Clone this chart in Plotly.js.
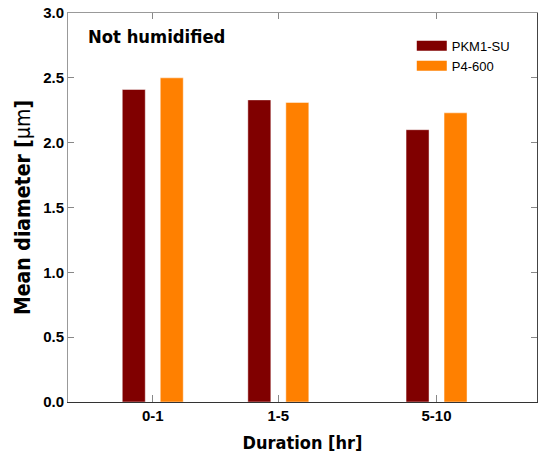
<!DOCTYPE html>
<html>
<head>
<meta charset="utf-8">
<script src="https://cdn.plot.ly/plotly-3.0.1.min.js"></script>
<style>html,body{margin:0;padding:0;background:#fff;}#chart{width:542px;height:458px;}</style>
</head>
<body>
<div id="chart"></div>
<script>
// Data
var durations = ['0-1', '1-5', '5-10'];
var durationPos = [1, 2, 3.26];
var pkm1su = [2.41, 2.33, 2.10];
var p4600 = [2.50, 2.31, 2.23];
var seriesNames = ['PKM1-SU', 'P4-600'];
var yTickVals = [0, 0.5, 1.0, 1.5, 2.0, 2.5, 3.0];

var colDark = '#800000';
var colOrange = '#ff8000';

var traces = [
  {type: 'bar', x: durationPos, y: pkm1su, name: seriesNames[0], showlegend: false,
   marker: {color: colDark, line: {color: 'rgba(255,255,255,0.45)', width: 1}}},
  {type: 'bar', x: durationPos, y: p4600, name: seriesNames[1], showlegend: false,
   marker: {color: colOrange, line: {color: 'rgba(255,255,255,0.45)', width: 1}}},
  {type: 'scatter', mode: 'lines', x: [null], y: [null], name: seriesNames[0],
   line: {color: colDark, width: 12}, hoverinfo: 'skip'},
  {type: 'scatter', mode: 'lines', x: [null], y: [null], name: seriesNames[1],
   line: {color: colOrange, width: 12}, hoverinfo: 'skip'}
];

var tickFont = {family: 'Liberation Sans Narrow, Liberation Sans, Arial, sans-serif', size: 15, color: '#000', weight: 'bold'};
var titleFamily = 'DejaVu Sans Condensed, DejaVu Sans, sans-serif';

var layout = {
  width: 542, height: 458,
  margin: {l: 68, r: 5, t: 13, b: 56},
  paper_bgcolor: '#fff', plot_bgcolor: '#fff',
  barmode: 'group', bargap: 0.395, bargroupgap: 0.395,
  showlegend: true,
  legend: {x: 0.733, y: 0.954, xanchor: 'left', yanchor: 'top',
           bgcolor: 'rgba(0,0,0,0)', itemwidth: 30,
           font: {family: 'Liberation Sans, Arial, sans-serif', size: 13, color: '#000'}},
  xaxis: {
    range: [0.325, 4.06], tickvals: durationPos, ticktext: durations,
    ticks: 'inside', ticklen: 7, tickcolor: '#888', tickwidth: 1,
    showline: true, linecolor: '#333', linewidth: 1, mirror: false,
    showgrid: false, zeroline: false, tickfont: tickFont,
    title: {text: 'Duration [hr]', standoff: 13,
            font: {family: titleFamily, size: 18, color: '#000', weight: 'bold'}}
  },
  yaxis: {
    range: [0, 3], tickvals: yTickVals, tickformat: '.1f',
    ticks: 'inside', ticklen: 6, tickcolor: '#888', tickwidth: 1,
    showline: true, linecolor: '#999', linewidth: 1, mirror: false,
    showgrid: false, zeroline: false, tickfont: tickFont,
    title: {text: '<b>Mean diameter [</b>μm<b>]</b>', standoff: 6,
            font: {family: titleFamily, size: 21, color: '#000'}}
  },
  xaxis2: {
    overlaying: 'x', side: 'top', anchor: 'y', range: [0.325, 4.06],
    tickvals: durationPos, showticklabels: false,
    ticks: 'inside', ticklen: 6, tickcolor: '#888',
    showline: true, linecolor: '#999', linewidth: 1,
    showgrid: false, zeroline: false
  },
  yaxis2: {
    overlaying: 'y', side: 'right', anchor: 'x', range: [0, 3],
    tickvals: yTickVals, showticklabels: false,
    ticks: 'inside', ticklen: 6, tickcolor: '#888',
    showline: true, linecolor: '#444', linewidth: 1,
    showgrid: false, zeroline: false
  },
  annotations: [{
    text: '<b>Not humidified</b>', xref: 'paper', yref: 'paper',
    x: 0.038, y: 0.94, xanchor: 'left', yanchor: 'middle', showarrow: false,
    font: {family: titleFamily, size: 18.3, color: '#000'}
  }]
};

// dummy trace to register the overlay axes
traces.push({type: 'scatter', x: [null], y: [null], xaxis: 'x2', yaxis: 'y2', showlegend: false, hoverinfo: 'skip'});

Plotly.newPlot('chart', traces, layout, {displayModeBar: false, staticPlot: true});
</script>
</body>
</html>
